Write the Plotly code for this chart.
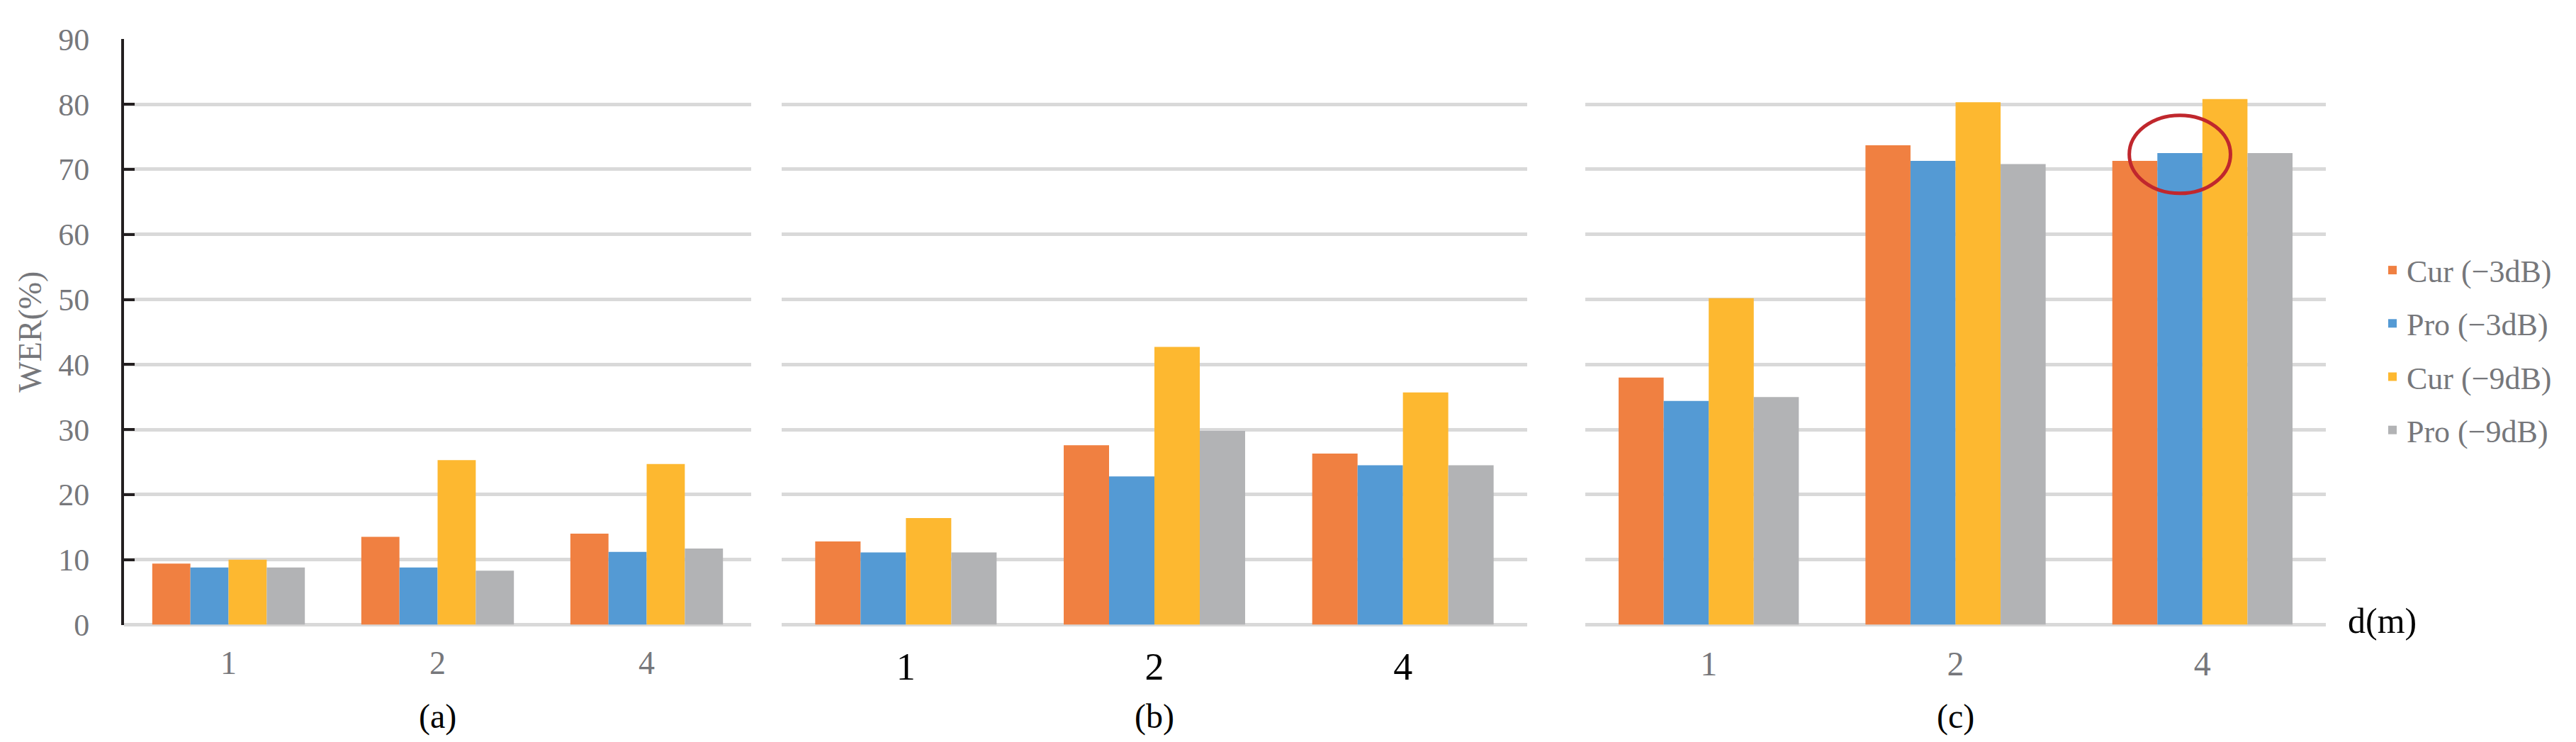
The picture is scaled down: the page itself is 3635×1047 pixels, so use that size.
import plotly.graph_objects as go

# ---- data ----
distances = ["1", "2", "4"]
series_names = ["Cur (\u22123dB)", "Pro (\u22123dB)", "Cur (\u22129dB)", "Pro (\u22129dB)"]
series_colors = ["#F08041", "#549AD4", "#FDB830", "#B2B3B5"]

a_cur3 = [9.4, 13.5, 14.0]
a_pro3 = [8.8, 8.8, 11.2]
a_cur9 = [10.0, 25.3, 24.7]
a_pro9 = [8.8, 8.3, 11.7]

b_cur3 = [12.8, 27.6, 26.3]
b_pro3 = [11.1, 22.8, 24.5]
b_cur9 = [16.4, 42.7, 35.7]
b_pro9 = [11.1, 29.8, 24.5]

c_cur3 = [38.0, 73.7, 71.3]
c_pro3 = [34.4, 71.3, 72.5]
c_cur9 = [50.2, 80.3, 80.8]
c_pro9 = [35.0, 70.8, 72.5]

panel_labels = ["(a)", "(b)", "(c)"]
y_ticks = [0, 10, 20, 30, 40, 50, 60, 70, 80, 90]

panels = [
    [a_cur3, a_pro3, a_cur9, a_pro9],
    [b_cur3, b_pro3, b_cur9, b_pro9],
    [c_cur3, c_pro3, c_cur9, c_pro9],
]

# page is 3635x1047; the html body has an 8px default margin
PAGE_W, PAGE_H, BODY_M = 3635, 1047, 8
W, H = PAGE_W - 2 * BODY_M, PAGE_H - 2 * BODY_M


def px_x(px):
    return (px - BODY_M) / W


def px_y(py):
    return (H - (py - BODY_M)) / H


FONT = "Liberation Serif, Times New Roman, serif"
GRAY_TXT = "#76777B"
GRID = "#D9D9D9"
BARGAP = 0.27
Y_MAX = 90.05

fig = go.Figure()

axis_ids = ["", "2", "3"]
for p, vals in enumerate(panels):
    for s, (name, color) in enumerate(zip(series_names, series_colors)):
        fig.add_trace(go.Bar(
            x=distances, y=vals[s], name=name,
            marker=dict(color=color, line=dict(width=0)),
            xaxis="x" + axis_ids[p], yaxis="y" + axis_ids[p],
            legendgroup=name, showlegend=(p == 0),
        ))

# domains in page pixels -> paper
x_dom_px = [(175, 1060), (1103, 2155), (2237, 3282)]
px_per_unit = (881.5 - 55.3) / 90
y_bot_px = 881.5
y_top_px = y_bot_px - Y_MAX * px_per_unit
y_dom = [px_y(y_bot_px), px_y(y_top_px)]

tick_fonts = [
    dict(family=FONT, size=46, color=GRAY_TXT),
    dict(family=FONT, size=54, color="#000000"),
    dict(family=FONT, size=48, color=GRAY_TXT),
]

layout = dict(
    width=W, height=H,
    margin=dict(l=0, r=0, t=0, b=0, autoexpand=False),
    paper_bgcolor="white", plot_bgcolor="white",
    barmode="group", bargap=BARGAP, bargroupgap=0,
    font=dict(family=FONT, color=GRAY_TXT),
    legend=dict(
        x=px_x(3356), xanchor="left", y=px_y(494), yanchor="middle",
        font=dict(family=FONT, size=44, color=GRAY_TXT),
        tracegroupgap=15, traceorder="grouped", bgcolor="rgba(0,0,0,0)",
    ),
    showlegend=True,
)

for p in range(3):
    xa = "xaxis" + axis_ids[p]
    ya = "yaxis" + axis_ids[p]
    x0, x1 = x_dom_px[p]
    layout[xa] = dict(
        domain=[px_x(x0), px_x(x1)], anchor="y" + axis_ids[p],
        type="category", categoryorder="array", categoryarray=distances,
        showgrid=False, showline=False, ticks="", zeroline=False,
        tickfont=tick_fonts[p], ticklabelstandoff=22, automargin=False,
    )
    layout[ya] = dict(
        domain=y_dom, anchor="x" + axis_ids[p], range=[0, Y_MAX],
        tickvals=y_ticks, showgrid=True, gridcolor=GRID, gridwidth=5,
        zeroline=True, zerolinecolor=GRID, zerolinewidth=5,
        showticklabels=(p == 0), showline=(p == 0), automargin=False,
    )

layout["yaxis"].update(
    linecolor="#231F20", linewidth=4, ticks="inside", ticklen=15,
    tickwidth=4, tickcolor="#231F20",
    tickfont=dict(family=FONT, size=44, color=GRAY_TXT),
    ticklabelstandoff=36,
    title=dict(text="WER(%)", font=dict(family=FONT, size=46, color=GRAY_TXT), standoff=10),
)

fig.update_layout(**layout)

# panel captions
annotations = []
for p, lab in enumerate(panel_labels):
    x0, x1 = x_dom_px[p]
    annotations.append(dict(
        text=lab, x=px_x((x0 + x1) / 2), y=px_y(1040), xref="paper", yref="paper",
        showarrow=False, xanchor="center", yanchor="bottom",
        font=dict(family=FONT, size=48, color="#000000"),
    ))
annotations.append(dict(
    text="d(m)", x=px_x(3361), y=px_y(876), xref="paper", yref="paper",
    showarrow=False, xanchor="center", yanchor="middle",
    font=dict(family=FONT, size=50, color="#000000"),
))
fig.update_layout(annotations=annotations)

# red ellipse highlighting Pro(-3dB) at d=4 in panel (c)
bar_w = (1 - BARGAP) / 4
cat_idx = distances.index("4")
cx = cat_idx - bar_w / 2          # centre of 2nd bar (Pro -3dB)
cy = c_pro3[cat_idx]
fig.add_shape(
    type="circle", xref="x3", yref="y3",
    x0=cx - 0.205, x1=cx + 0.205, y0=cy - 6.2, y1=cy + 5.8,
    line=dict(color="#C0272D", width=5), fillcolor="rgba(0,0,0,0)",
)

fig.write_html("out.html")
